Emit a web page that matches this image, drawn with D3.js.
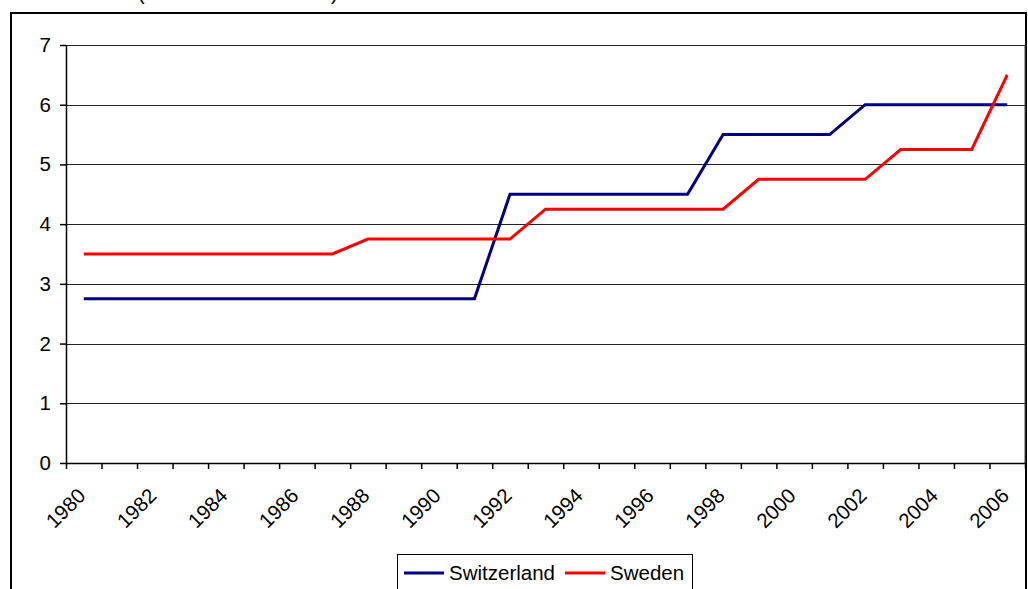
<!DOCTYPE html>
<html lang="en">
<head>
    <meta charset="UTF-8">
    <title>Switzerland and Sweden</title>
    <script src="https://d3js.org/d3.v7.min.js"></script>
    <style>
        body, html {
            margin: 0;
            background: white;
        }
        svg {
            display: block;
            font-family: "Liberation Sans", Arial, sans-serif;
        }
    </style>
</head>
<body>
    <div id="chart"></div>
    <script>
        var years = d3.range(1980, 2007);
        var yTicks = [0, 1, 2, 3, 4, 5, 6, 7];
        var labelYears = [1980, 1982, 1984, 1986, 1988, 1990, 1992, 1994, 1996, 1998, 2000, 2002, 2004, 2006];
        var switzerland = [2.75, 2.75, 2.75, 2.75, 2.75, 2.75, 2.75, 2.75, 2.75, 2.75, 2.75, 2.75,
                           4.5, 4.5, 4.5, 4.5, 4.5, 4.5, 5.5, 5.5, 5.5, 5.5, 6, 6, 6, 6, 6];
        var sweden = [3.5, 3.5, 3.5, 3.5, 3.5, 3.5, 3.5, 3.5, 3.75, 3.75, 3.75, 3.75, 3.75,
                      4.25, 4.25, 4.25, 4.25, 4.25, 4.25, 4.75, 4.75, 4.75, 4.75, 5.25, 5.25, 5.25, 6.5];
        var series = [
            { name: "Switzerland", values: switzerland, color: "#000080" },
            { name: "Sweden", values: sweden, color: "#ff0000" }
        ];

        var width = 1028, height = 589;
        var plotLeft = 66, plotRight = 1025, plotTop = 45, plotBottom = 463;

        var svg = d3.select("#chart").append("svg")
            .attr("width", width)
            .attr("height", height);

        // outer chart frame
        svg.append("path")
            .attr("d", "M11," + height + "V13H1026V" + height)
            .attr("fill", "none")
            .attr("stroke", "#000")
            .attr("stroke-width", 2);

        // title above the frame, cut off by the picture edge
        var title = svg.append("text").attr("y", 0).attr("font-size", 20);
        title.append("tspan").attr("x", 138).text("(");
        title.append("tspan").attr("x", 331).text(")");

        var x = d3.scaleBand().domain(years).range([plotLeft, plotRight]);
        var xEdge = d3.scaleLinear().domain([1980, 2007]).range([plotLeft, plotRight]);
        var y = d3.scaleLinear().domain([0, 7]).range([plotBottom, plotTop]);

        // grid lines
        svg.append("g").selectAll("line").data(yTicks.slice(1)).enter().append("line")
            .attr("x1", plotLeft).attr("x2", plotRight)
            .attr("y1", d => Math.round(y(d)) + 0.5).attr("y2", d => Math.round(y(d)) + 0.5)
            .attr("stroke", "#222").attr("stroke-width", 1);

        // plot right border
        svg.append("line")
            .attr("x1", plotRight).attr("x2", plotRight).attr("y1", plotTop).attr("y2", plotBottom)
            .attr("stroke", "#444");

        var yAxis = svg.append("g")
            .attr("transform", "translate(" + plotLeft + ",0)")
            .call(d3.axisLeft(y).tickValues(yTicks).tickFormat(d3.format("d"))
                .tickSize(6).tickPadding(9).tickSizeOuter(0));
        yAxis.attr("font-family", null);
        yAxis.selectAll("text").attr("font-size", 20.5).attr("fill", "#000");
        yAxis.selectAll("line, path").attr("stroke", "#000").attr("stroke-width", 1.5);

        var xAxis = svg.append("g")
            .attr("transform", "translate(0," + plotBottom + ")")
            .call(d3.axisBottom(xEdge).tickValues(d3.range(1980, 2008)).tickFormat("").tickSize(6).tickSizeOuter(0));
        xAxis.selectAll("line, path").attr("stroke", "#000").attr("stroke-width", 1.5);

        svg.append("g").selectAll("text").data(labelYears).enter().append("text")
            .attr("transform", d => "translate(" + (x(d) + x.bandwidth() / 2 + 3) + ",497) rotate(-45)")
            .attr("text-anchor", "end")
            .attr("font-size", 20.5)
            .text(d => d);

        var line = d3.line()
            .x((d, i) => x(years[i]) + x.bandwidth() / 2)
            .y(d => y(d));

        svg.append("g").selectAll("path").data(series).enter().append("path")
            .attr("d", d => line(d.values))
            .attr("fill", "none")
            .attr("stroke", d => d.color)
            .attr("stroke-width", 3);

        // legend
        var legend = svg.append("g");
        legend.append("rect")
            .attr("x", 397.5).attr("y", 554.5).attr("width", 295).attr("height", 50)
            .attr("fill", "white").attr("stroke", "#000");
        var legendX = [404, 565];
        series.forEach(function (s, i) {
            legend.append("line")
                .attr("x1", legendX[i]).attr("x2", legendX[i] + 40)
                .attr("y1", 573).attr("y2", 573)
                .attr("stroke", s.color).attr("stroke-width", 3);
            legend.append("text")
                .attr("x", legendX[i] + 45).attr("y", 580)
                .attr("font-size", 20.5)
                .text(s.name);
        });
    </script>
</body>
</html>
